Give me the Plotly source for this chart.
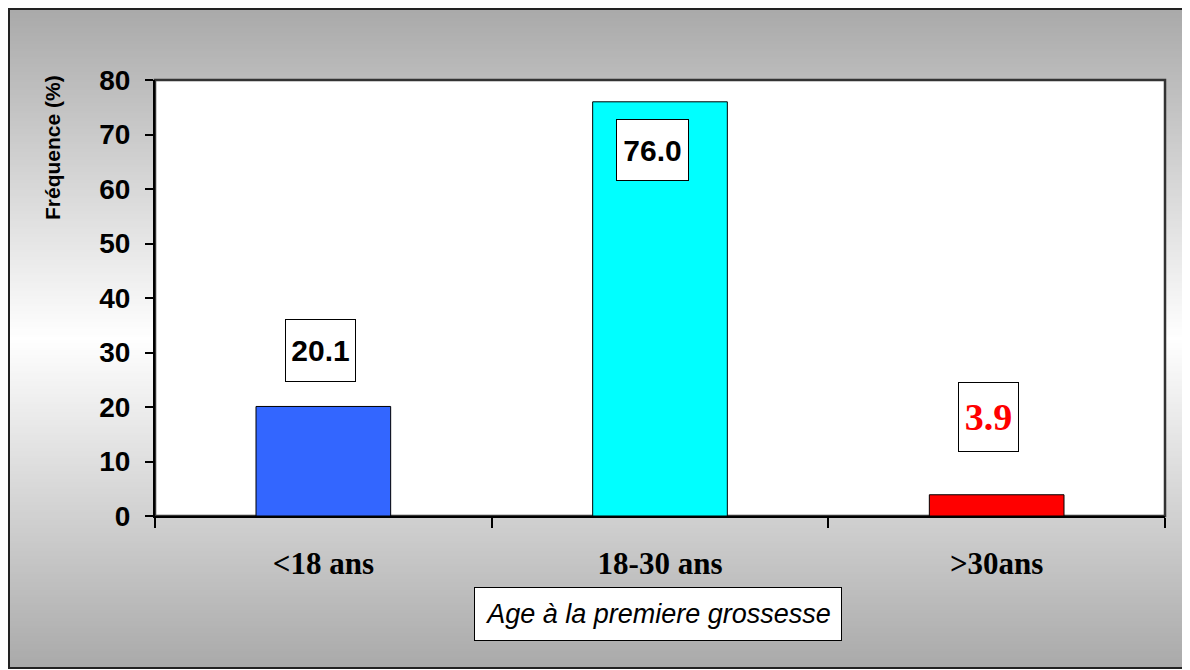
import base64, struct, zlib
import plotly.graph_objects as go

categories = ["<18 ans", "18-30 ans", ">30ans"]
frequences = [20.1, 76.0, 3.9]
bar_colors = ["#3366FF", "#00FFFF", "#FF0000"]
label_texts = ["20.1", "76.0", "3.9"]
y_ticks = [0, 10, 20, 30, 40, 50, 60, 70, 80]

# ---- vertical gradient background (dark - white - dark) as PNG data URI
def gradient_png(n=256):
    rows = []
    for i in range(n):
        t = abs(i / (n - 1) - 0.5) * 2
        v = int(round(255 - 85 * t))
        rows.append(b"\x00" + bytes([v, v, v]))
    raw = b"".join(rows)
    def chunk(tag, data):
        c = struct.pack(">I", len(data)) + tag + data
        return c + struct.pack(">I", zlib.crc32(tag + data) & 0xffffffff)
    png = b"\x89PNG\r\n\x1a\n"
    png += chunk(b"IHDR", struct.pack(">IIBBBBB", 1, n, 8, 2, 0, 0, 0))
    png += chunk(b"IDAT", zlib.compress(raw))
    png += chunk(b"IEND", b"")
    return "data:image/png;base64," + base64.b64encode(png).decode()

W, H = 1190, 670
L, R, T, B = 147, 33, 72, 162
pw, ph = W - L - R, H - T - B
def px(x):
    return (x - L) / pw
def py(y):
    return (H - B - y) / ph

fig = go.Figure(go.Bar(
    x=categories, y=frequences, width=0.4,
    marker=dict(color=bar_colors, line=dict(color="black", width=1)),
    hoverinfo="skip",
))

fx0, fx1, fy0, fy1 = px(1), px(1205), py(660), py(1)

fig.add_layout_image(dict(
    source=gradient_png(), xref="paper", yref="paper",
    x=fx0, y=fy1, sizex=fx1 - fx0, sizey=fy1 - fy0,
    sizing="stretch", xanchor="left", yanchor="top", layer="below",
))

shapes = [
    dict(type="rect", xref="paper", yref="paper", x0=fx0, x1=fx1, y0=fy0, y1=fy1,
         line=dict(color="#222222", width=2), fillcolor="rgba(0,0,0,0)", layer="above"),
    dict(type="rect", xref="x domain", yref="y domain", x0=0, x1=1, y0=0, y1=1,
         line=dict(color="#333333", width=2.5), fillcolor="white", layer="below"),
]

# value labels in white boxes
label_offsets = [10.2, -8.8, 14.2]
label_xshift = [-3, -8, -8]
annotations = []
for i, (c, v, t) in enumerate(zip(categories, frequences, label_texts)):
    serif = i == 2
    annotations.append(dict(
        x=c, y=v + label_offsets[i], xref="x", yref="y", text=t,
        showarrow=False, xanchor="center", yanchor="middle", xshift=label_xshift[i],
        font=dict(family="Liberation Serif" if serif else "Liberation Sans",
                  size=38 if serif else 30, weight="bold",
                  color="#FF0000" if serif else "black"),
        bgcolor="white", bordercolor="black", borderwidth=1,
        width=[59, 61, 49][i], height=[51, 50, 58][i], borderpad=5,
    ))

annotations.append(dict(
    x=0.4985, y=py(605.5), xref="paper", yref="paper",
    xanchor="center", yanchor="middle",
    text="<i>Age à la premiere grossesse</i>", showarrow=False,
    font=dict(family="Liberation Sans", size=27, color="black"),
    bgcolor="white", bordercolor="black", borderwidth=1,
    width=354, height=40, borderpad=6,
))
annotations.append(dict(
    x=px(44), y=py(140), xref="paper", yref="paper",
    xanchor="center", yanchor="middle",
    text="Fréquence (%)", showarrow=False, textangle=-90,
    font=dict(family="Liberation Sans", size=21, weight="bold", color="black"),
))

fig.update_layout(
    width=W, height=H, margin=dict(l=L, r=R, t=T, b=B),
    paper_bgcolor="white", plot_bgcolor="rgba(0,0,0,0)",
    showlegend=False, shapes=shapes, annotations=annotations,
    xaxis=dict(
        type="category", tickson="boundaries", ticks="outside", ticklen=10,
        tickcolor="black", tickwidth=1.5, showline=True, linecolor="black",
        linewidth=2, showgrid=False, ticklabelstandoff=19,
        tickfont=dict(family="Liberation Serif", size=31, weight="bold", color="black"),
    ),
    yaxis=dict(
        range=[0, 80], tickvals=y_ticks, ticks="outside", ticklen=8,
        tickcolor="black", tickwidth=1.5, showline=True, linecolor="black",
        linewidth=2, showgrid=False, zeroline=False, ticklabelstandoff=9,
        tickfont=dict(family="Liberation Sans", size=28, weight="bold", color="black"),
    ),
)

fig.write_html("out.html")
